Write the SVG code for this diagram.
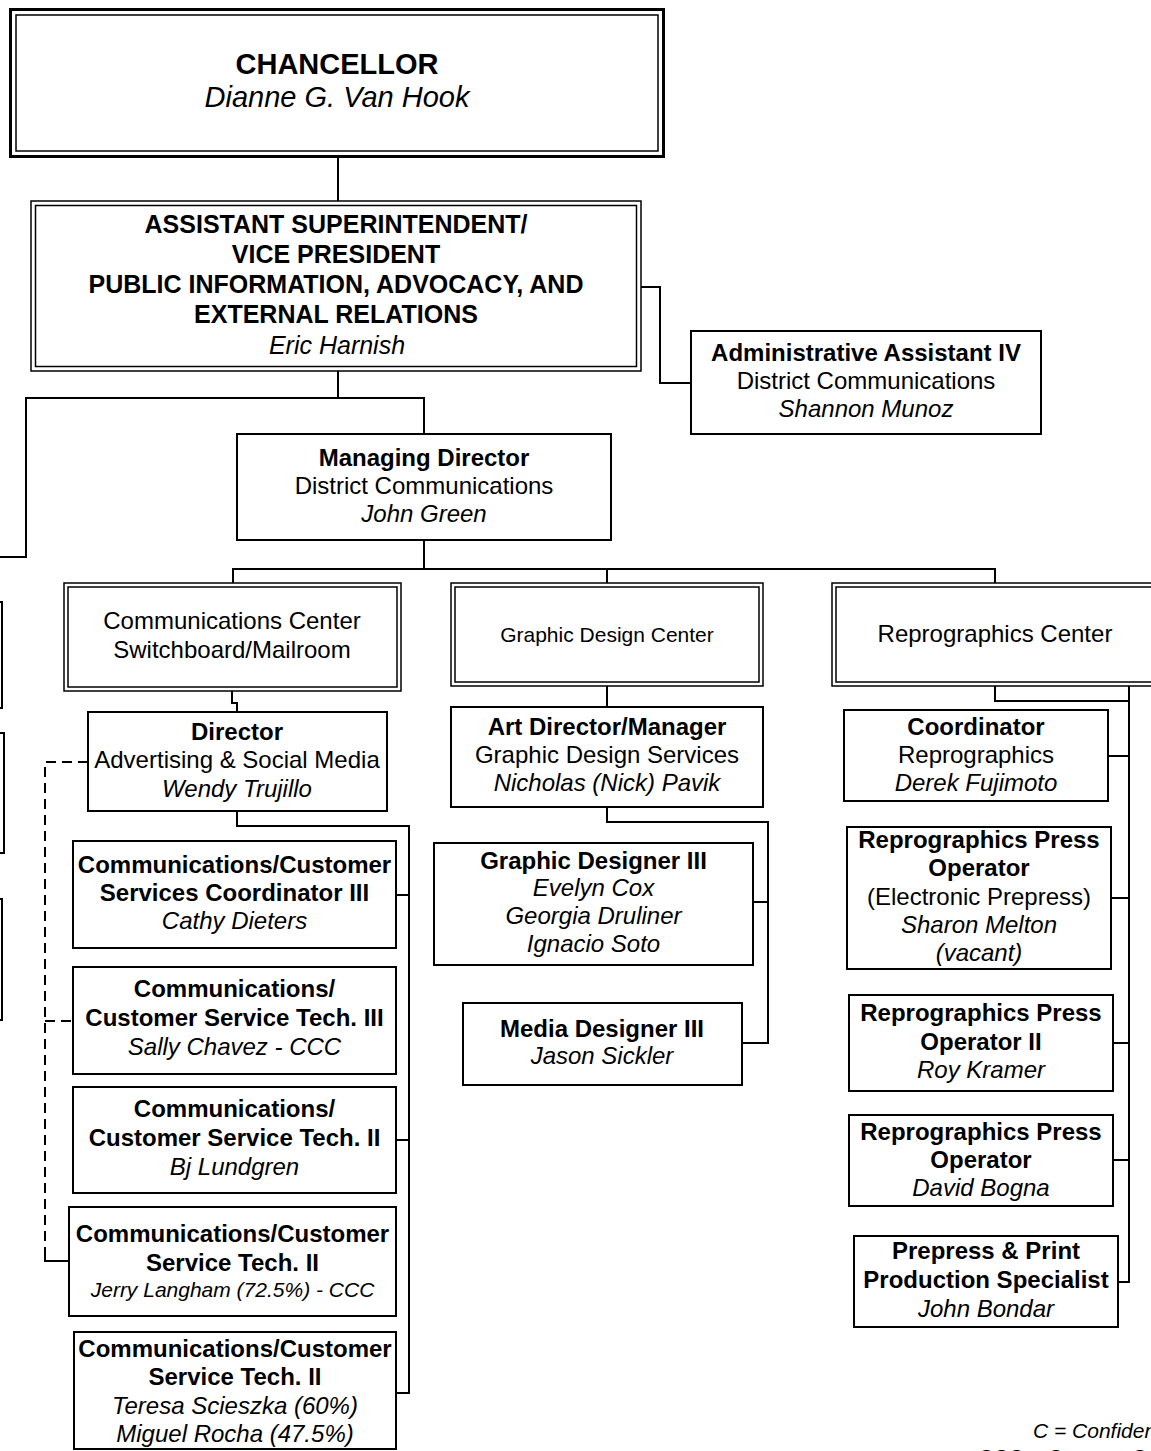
<svg xmlns="http://www.w3.org/2000/svg" width="1151" height="1451" viewBox="0 0 1151 1451">
<style>
.box{fill:#fff;stroke:#000;stroke-width:2}
.dbl{fill:#fff;stroke:#000;stroke-width:1.5}
.t{font-family:"Liberation Sans",Arial,sans-serif;font-size:24px;text-anchor:middle;fill:#000}
.b{font-weight:bold}
.i{font-style:italic}
.s21{font-size:21px}
.conn{fill:none;stroke:#000;stroke-width:2}
.dash{stroke-dasharray:10 6}
</style>
<rect x="0" y="0" width="1151" height="1451" fill="#fff"/>
<g id="connectors">
<path class="conn" d="M338,156 V201"/>
<path class="conn" d="M641,287 H660 V383 H691"/>
<path class="conn" d="M338,371 V398"/>
<path class="conn" d="M-5,557 H26 V398 H424 V434"/>
<path class="conn" d="M424,540 V569"/>
<path class="conn" d="M233,583 V569 H995 V583"/>
<path class="conn" d="M607,569 V583"/>
<path class="conn" d="M232,691 V703 H237 V712"/>
<path class="conn" d="M237,811 V826 H409 V1393 H396"/>
<path class="conn" d="M396,895 H409"/>
<path class="conn" d="M396,1140 H409"/>
<path class="conn dash" d="M88,762 H45 V1259"/>
<path class="conn" d="M45,1254 V1261 H69"/>
<path class="conn dash" d="M45,1021 H73"/>
<path class="conn" d="M607,686 V707"/>
<path class="conn" d="M607,807 V822 H768 V1043 H742"/>
<path class="conn" d="M753,902 H768"/>
<path class="conn" d="M995,686 V701 H1129"/>
<path class="conn" d="M1129,686 V1282 H1118"/>
<path class="conn" d="M1108,756 H1129"/>
<path class="conn" d="M1111,898 H1129"/>
<path class="conn" d="M1113,1043 H1129"/>
<path class="conn" d="M1113,1160 H1129"/>
</g>
<g id="chancellor">
<rect x="10.5" y="9.5" width="653" height="147" fill="#fff" stroke="#000" stroke-width="3"/>
<rect x="16" y="15" width="642" height="136" fill="none" stroke="#000" stroke-width="1.5"/>
<text class="t b" x="337" y="74" style="font-size:29px">CHANCELLOR</text>
<text class="t i" x="337" y="107" style="font-size:29px">Dianne G. Van Hook</text>
</g>
<g id="asst-superintendent">
<rect class="dbl" x="31" y="201" width="610" height="170"/>
<rect class="dbl" x="35.5" y="205.5" width="601" height="161"/>
<text class="t b" x="336" y="233" style="font-size:25px">ASSISTANT SUPERINTENDENT/</text>
<text class="t b" x="336" y="263" style="font-size:25px">VICE PRESIDENT</text>
<text class="t b" x="336" y="293" style="font-size:25px">PUBLIC INFORMATION, ADVOCACY, AND</text>
<text class="t b" x="336" y="323" style="font-size:25px">EXTERNAL RELATIONS</text>
<text class="t i" x="337" y="354" style="font-size:25px">Eric Harnish</text>
</g>
<g id="admin-assistant">
<rect class="box" x="691" y="331" width="350" height="103"/>
<text class="t b" x="866" y="361">Administrative Assistant IV</text>
<text class="t" x="866" y="389">District Communications</text>
<text class="t i" x="866" y="417">Shannon Munoz</text>
</g>
<g id="managing-director">
<rect class="box" x="237" y="434" width="374" height="106"/>
<text class="t b" x="424" y="466">Managing Director</text>
<text class="t" x="424" y="494">District Communications</text>
<text class="t i" x="424" y="522">John Green</text>
</g>
<g id="left-box-1"><rect class="box" x="-300" y="602" width="302" height="106"/></g>
<g id="left-box-2"><rect class="box" x="-300" y="733" width="304" height="120"/></g>
<g id="left-box-3"><rect class="box" x="-300" y="899" width="302" height="121"/></g>
<g id="communications-center">
<rect class="dbl" x="64" y="583" width="337" height="108"/>
<rect class="dbl" x="68" y="587" width="329" height="100"/>
<text class="t" x="232" y="629">Communications Center</text>
<text class="t" x="232" y="658">Switchboard/Mailroom</text>
</g>
<g id="director-advertising">
<rect class="box" x="88" y="712" width="299" height="99"/>
<text class="t b" x="237" y="740">Director</text>
<text class="t" x="237" y="768">Advertising &amp; Social Media</text>
<text class="t i" x="237" y="797">Wendy Trujillo</text>
</g>
<g id="cathy-dieters">
<rect class="box" x="73" y="841" width="323" height="107"/>
<text class="t b" x="234.5" y="873">Communications/Customer</text>
<text class="t b" x="234.5" y="901">Services Coordinator III</text>
<text class="t i" x="234.5" y="929">Cathy Dieters</text>
</g>
<g id="sally-chavez">
<rect class="box" x="73" y="967" width="323" height="107"/>
<text class="t b" x="234.5" y="997">Communications/</text>
<text class="t b" x="234.5" y="1026">Customer Service Tech. III</text>
<text class="t i" x="234.5" y="1055">Sally Chavez - CCC</text>
</g>
<g id="bj-lundgren">
<rect class="box" x="73" y="1087" width="323" height="106"/>
<text class="t b" x="234.5" y="1117">Communications/</text>
<text class="t b" x="234.5" y="1146">Customer Service Tech. II</text>
<text class="t i" x="234.5" y="1175">Bj Lundgren</text>
</g>
<g id="jerry-langham">
<rect class="box" x="69" y="1207" width="327" height="109"/>
<text class="t b" x="232.5" y="1242">Communications/Customer</text>
<text class="t b" x="232.5" y="1271">Service Tech. II</text>
<text class="t i s21" x="232.5" y="1297">Jerry Langham (72.5%) - CCC</text>
</g>
<g id="teresa-miguel">
<rect class="box" x="74" y="1332" width="322" height="117"/>
<text class="t b" x="235" y="1357">Communications/Customer</text>
<text class="t b" x="235" y="1385">Service Tech. II</text>
<text class="t i" x="235" y="1414">Teresa Scieszka (60%)</text>
<text class="t i" x="235" y="1442">Miguel Rocha (47.5%)</text>
</g>
<g id="graphic-design-center">
<rect class="dbl" x="451" y="583" width="312" height="103"/>
<rect class="dbl" x="455" y="587" width="304" height="95"/>
<text class="t s21" x="607" y="642">Graphic Design Center</text>
</g>
<g id="art-director">
<rect class="box" x="451" y="707" width="312" height="100"/>
<text class="t b" x="607" y="735">Art Director/Manager</text>
<text class="t" x="607" y="763">Graphic Design Services</text>
<text class="t i" x="607" y="791">Nicholas (Nick) Pavik</text>
</g>
<g id="graphic-designer-iii">
<rect class="box" x="434" y="843" width="319" height="122"/>
<text class="t b" x="593.5" y="869">Graphic Designer III</text>
<text class="t i" x="593.5" y="896">Evelyn Cox</text>
<text class="t i" x="593.5" y="924">Georgia Druliner</text>
<text class="t i" x="593.5" y="952">Ignacio Soto</text>
</g>
<g id="media-designer-iii">
<rect class="box" x="463" y="1003" width="279" height="82"/>
<text class="t b" x="602" y="1037">Media Designer III</text>
<text class="t i" x="602" y="1064">Jason Sickler</text>
</g>
<g id="reprographics-center">
<rect class="dbl" x="832" y="583" width="326" height="103"/>
<rect class="dbl" x="836" y="587" width="318" height="95"/>
<text class="t" x="995" y="642">Reprographics Center</text>
</g>
<g id="coordinator">
<rect class="box" x="844" y="710" width="264" height="91"/>
<text class="t b" x="976" y="735">Coordinator</text>
<text class="t" x="976" y="763">Reprographics</text>
<text class="t i" x="976" y="791">Derek Fujimoto</text>
</g>
<g id="sharon-melton">
<rect class="box" x="847" y="827" width="264" height="142"/>
<text class="t b" x="979" y="848">Reprographics Press</text>
<text class="t b" x="979" y="876">Operator</text>
<text class="t" x="979" y="905">(Electronic Prepress)</text>
<text class="t i" x="979" y="933">Sharon Melton</text>
<text class="t i" x="979" y="961">(vacant)</text>
</g>
<g id="roy-kramer">
<rect class="box" x="849" y="995" width="264" height="96"/>
<text class="t b" x="981" y="1021">Reprographics Press</text>
<text class="t b" x="981" y="1050">Operator II</text>
<text class="t i" x="981" y="1078">Roy Kramer</text>
</g>
<g id="david-bogna">
<rect class="box" x="849" y="1115" width="264" height="91"/>
<text class="t b" x="981" y="1140">Reprographics Press</text>
<text class="t b" x="981" y="1168">Operator</text>
<text class="t i" x="981" y="1196">David Bogna</text>
</g>
<g id="john-bondar">
<rect class="box" x="854" y="1236" width="264" height="91"/>
<text class="t b" x="986" y="1259">Prepress &amp; Print</text>
<text class="t b" x="986" y="1288">Production Specialist</text>
<text class="t i" x="986" y="1317">John Bondar</text>
</g>
<g id="legend">
<text class="t i" x="1033" y="1438" style="font-size:21px;text-anchor:start">C = Confidential</text>
<text class="t i" x="977" y="1464" style="font-size:21px;text-anchor:start">CCC = Campus C</text>
</g>
</svg>
